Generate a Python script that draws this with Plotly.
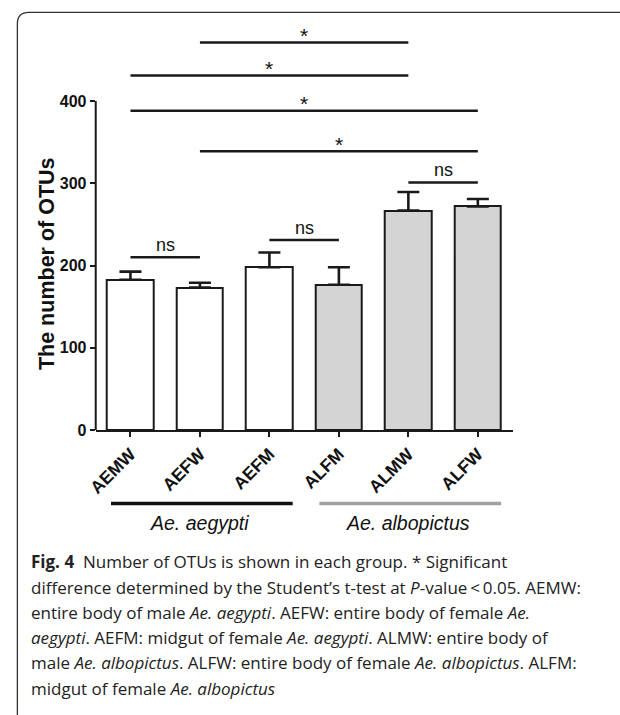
import plotly.graph_objects as go

# ---------------- data ----------------
groups = ["AEMW", "AEFW", "AEFM", "ALFM", "ALMW", "ALFW"]
otus = [182.7, 173.2, 197.8, 176.6, 266.8, 271.8]
otus_err = [9.9, 5.8, 18.0, 21.2, 22.5, 9.0]
bar_fill = ["white", "white", "white", "#d4d4d4", "#d4d4d4", "#d4d4d4"]
y_ticks = [0, 100, 200, 300, 400]

# significance brackets: (from index, to index, height, label)
sig_from = [1, 0, 0, 1, 4, 0, 2]
sig_to = [4, 4, 5, 5, 5, 1, 3]
sig_y = [471, 431, 388, 339, 301, 210, 231]
sig_label = ["*", "*", "*", "*", "ns", "ns", "ns"]

species = ["Ae. aegypti", "Ae. albopictus"]
species_start = [0, 3]
species_end = [2, 5]
species_color = ["#111111", "#a0a0a0"]

caption_lines = [
    "<b>Fig. 4</b>  Number of OTUs is shown in each group. * Significant",
    "difference determined by the Student’s t-test at <i>P</i>-value\u2009&lt;\u20090.05. AEMW:",
    "entire body of male <i>Ae. aegypti</i>. AEFW: entire body of female <i>Ae.</i>",
    "<i>aegypti</i>. AEFM: midgut of female <i>Ae. aegypti</i>. ALMW: entire body of",
    "male <i>Ae. albopictus</i>. ALFW: entire body of female <i>Ae. albopictus</i>. ALFM:",
    "midgut of female <i>Ae. albopictus</i>",
]

# ---------------- layout helpers (page pixel -> paper) ----------------
W, H = 620, 715
def px(x):
    return x / W
def py(y):
    return (H - y) / H

x_dom = [px(88), px(511)]
y_dom = [py(435.5), py(27.3)]
AX = "#1a1a1a"
FONT = "Liberation Sans"

fig = go.Figure()
fig.add_trace(go.Bar(
    x=list(range(len(groups))), y=otus, width=0.67,
    marker=dict(color=bar_fill, line=dict(color=AX, width=2)),
    error_y=dict(type="data", symmetric=False, array=otus_err,
                 arrayminus=[0] * len(otus), color=AX, thickness=2.6, width=11),
    hoverinfo="skip", showlegend=False,
))

shapes = []
annotations = []

# y axis line (0..400 only)
shapes.append(dict(type="line", xref="paper", yref="y", x0=x_dom[0], x1=x_dom[0],
                   y0=0, y1=max(y_ticks), line=dict(color=AX, width=2)))

# significance lines
for a, b, yv, lab in zip(sig_from, sig_to, sig_y, sig_label):
    shapes.append(dict(type="line", xref="x", yref="y", x0=a, x1=b, y0=yv, y1=yv,
                       line=dict(color=AX, width=2.5)))
    if lab == "*":
        annotations.append(dict(x=(a + b) / 2, y=yv, xref="x", yref="y", text="*",
                                showarrow=False, yanchor="middle", yshift=7,
                                font=dict(family=FONT, size=21, color="#111")))
    else:
        annotations.append(dict(x=(a + b) / 2, y=yv, xref="x", yref="y", text="ns",
                                showarrow=False, yanchor="middle", yshift=12,
                                font=dict(family=FONT, size=18, color="#111")))

# species group lines + labels
for name, s, e, c in zip(species, species_start, species_end, species_color):
    shapes.append(dict(type="line", xref="x", yref="paper", x0=s - 0.28, x1=e + 0.335,
                       y0=py(510), y1=py(510), line=dict(color=c, width=3.5)))
    annotations.append(dict(x=(s + e) / 2, y=py(530), xref="x", yref="paper",
                            text="<i>" + name + "</i>", showarrow=False,
                            xanchor="center", yanchor="middle",
                            font=dict(family=FONT, size=19.5, color="#111")))

# y axis title
annotations.append(dict(x=px(38), y=py(267), xref="paper", yref="paper",
                        text="<b>The number of OTUs</b>", textangle=-90, showarrow=False,
                        xanchor="center", yanchor="middle",
                        font=dict(family=FONT, size=21.5, color="#111")))

# caption
cap_y0, cap_dy = 569, 25.6
for i, line in enumerate(caption_lines):
    annotations.append(dict(x=px(20), y=py(cap_y0 + i * cap_dy), xref="paper", yref="paper",
                            text=line, showarrow=False, xanchor="left", yanchor="middle",
                            font=dict(family="Open Sans", size=17, color="#222")))

# frame with rounded top-left corner
frame = (f"M {px(8.5)},{py(730)} L {px(8.5)},{py(24)} "
         f"Q {px(8.5)},{py(12.5)} {px(20)},{py(12.5)} L {px(640)},{py(12.5)}")
shapes.append(dict(type="path", xref="paper", yref="paper", path=frame,
                   line=dict(color="#333", width=1.3)))

fig.update_layout(
    width=W, height=H, margin=dict(l=0, r=0, t=0, b=0),
    paper_bgcolor="white", plot_bgcolor="white",
    shapes=shapes, annotations=annotations, bargap=0,
    xaxis=dict(domain=x_dom, range=[-0.5, 5.5], tickvals=list(range(len(groups))),
               ticktext=groups, tickangle=-45, showline=True, linecolor=AX, linewidth=2,
               ticks="outside", ticklen=5, tickwidth=2, tickcolor=AX, showgrid=False,
               zeroline=False,
               tickfont=dict(family=FONT, size=17.5, color="#111", weight="bold")),
    yaxis=dict(domain=y_dom, range=[0, 490], tickvals=y_ticks, showline=False,
               ticks="outside", ticklen=5, tickwidth=2, tickcolor=AX, showgrid=False,
               zeroline=False,
               tickfont=dict(family=FONT, size=16, color="#111", weight="bold")),
)

fig.write_html("out.html", config={"displayModeBar": False},
               post_script="document.body.style.margin='0';")
